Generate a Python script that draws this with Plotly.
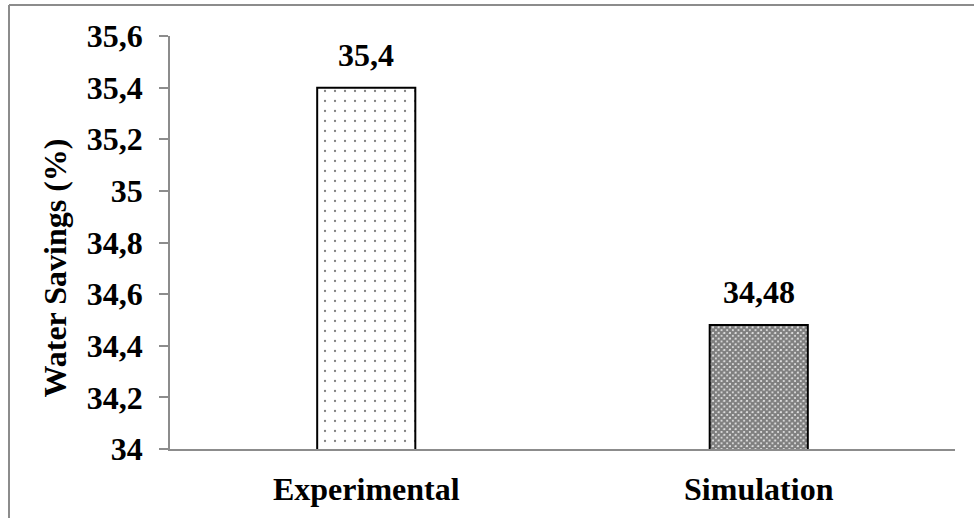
import plotly.graph_objects as go

categories = ["Experimental", "Simulation"]
values = [35.4, 34.48]
value_labels = ["35,4", "34,48"]
tick_vals = [34, 34.2, 34.4, 34.6, 34.8, 35, 35.2, 35.4, 35.6]
tick_text = ["34", "34,2", "34,4", "34,6", "34,8", "35", "35,2", "35,4", "35,6"]

FONT = "'Liberation Serif', 'Times New Roman', 'DejaVu Serif', serif"
GRAY = "#8c8c8c"
FS = 32

fig = go.Figure()
fig.add_trace(go.Bar(
    x=[categories[0]], y=[values[0]],
    marker=dict(color="white", line=dict(color="black", width=2),
                pattern=dict(shape=".", size=10, solidity=0.04, fgcolor="black", bgcolor="white", fillmode="overlay")),
    width=0.25, showlegend=False, hoverinfo="skip",
))
fig.add_trace(go.Bar(
    x=[categories[1]], y=[values[1]],
    marker=dict(color="white", line=dict(color="black", width=2),
                pattern=dict(shape="x", size=4, solidity=0.85, fgcolor="black", bgcolor="white", fillmode="overlay")),
    width=0.25, showlegend=False, hoverinfo="skip",
))

for c, v, t in zip(categories, values, value_labels):
    fig.add_annotation(x=c, y=v, text="<b>%s</b>" % t, showarrow=False,
                       yanchor="bottom", yshift=13,
                       font=dict(family=FONT, size=FS, color="black"))

fig.add_annotation(xref="paper", yref="paper", x=-0.146, y=0.438,
                   text="<b>Water Savings (%)</b>", textangle=-90, showarrow=False,
                   xanchor="center", yanchor="middle",
                   font=dict(family=FONT, size=FS, color="black"))

# outer chart frame (top and left edges visible; right/bottom fall outside the view)
fig.add_shape(type="line", xref="paper", yref="paper",
              x0=-0.2051, x1=1.03, y0=1.0750, y1=1.0750,
              line=dict(color=GRAY, width=2))
fig.add_shape(type="line", xref="paper", yref="paper",
              x0=-0.2051, x1=-0.2051, y0=-0.2, y1=1.0750,
              line=dict(color=GRAY, width=2))

fig.update_layout(
    template="none",
    width=974, height=518,
    margin=dict(l=170, r=19, t=36, b=69),
    paper_bgcolor="white", plot_bgcolor="white",
    barmode="overlay",
    font=dict(family=FONT, size=FS, color="black"),
    xaxis=dict(showline=True, linecolor=GRAY, linewidth=2, ticks="", showgrid=False,
               automargin=False,
               tickfont=dict(family=FONT, size=FS, color="black", weight="bold"),
               ticklabelstandoff=11),
    yaxis=dict(range=[34, 35.6], tickvals=tick_vals, ticktext=tick_text,
               showline=True, linecolor=GRAY, linewidth=1.5, ticks="outside",
               ticklen=9, tickcolor=GRAY, tickwidth=1.5, showgrid=False, zeroline=False,
               automargin=False,
               tickfont=dict(family=FONT, size=FS, color="black", weight="bold"),
               ticklabelstandoff=10),
)

fig.write_html("out.html", config={"displayModeBar": False},
               post_script="document.body.style.margin='0';")
